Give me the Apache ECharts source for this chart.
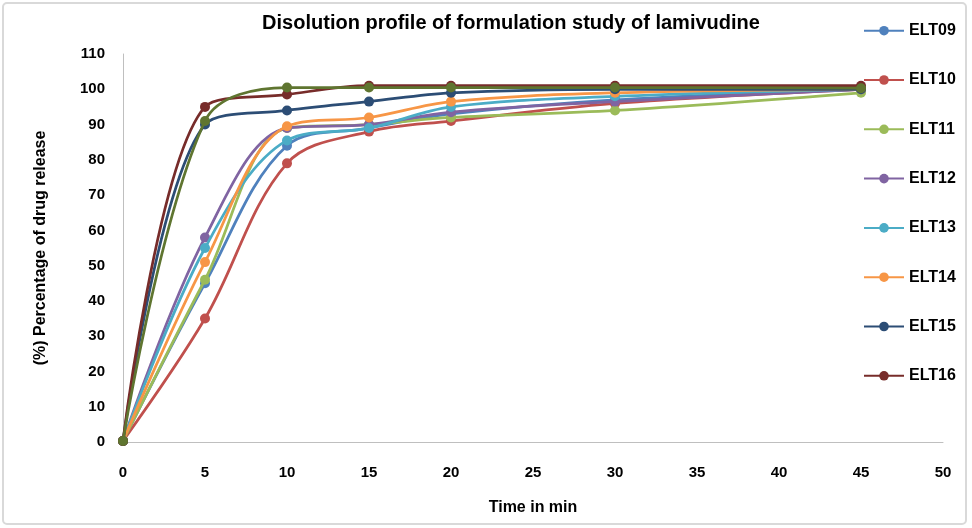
<!DOCTYPE html>
<html>
<head>
<meta charset="utf-8">
<script src="https://cdn.jsdelivr.net/npm/echarts@6/dist/echarts.min.js"></script>
<style>
html,body{margin:0;padding:0;background:#fff;}
#chart{width:972px;height:528px;}
</style>
</head>
<body>
<div id="chart"></div>
<script>
const times = [0, 5, 10, 15, 20, 30, 45];
const seriesNames = ['ELT09','ELT10','ELT11','ELT12','ELT13','ELT14','ELT15','ELT16','ELT17'];
const legendNames = ['ELT09','ELT10','ELT11','ELT12','ELT13','ELT14','ELT15','ELT16'];
const ELT09 = [0.3, 45, 84, 89, 93, 97, 100];
const ELT10 = [0.3, 35, 79, 88, 91, 96, 100];
const ELT11 = [0.3, 46, 89, 90, 92, 94, 99];
const ELT12 = [0.3, 58, 89, 90, 93.5, 96.5, 100];
const ELT13 = [0.3, 55, 85.5, 89, 95, 98, 100];
const ELT14 = [0.3, 51, 89.5, 92, 96.5, 99, 100];
const ELT15 = [0.3, 90, 94, 96.5, 99, 100, 100];
const ELT16 = [0.3, 95, 98.5, 101, 101, 101, 101];
const ELT17 = [0.3, 91, 100.5, 100.5, 100.5, 100.5, 100.3];
const allValues = [ELT09, ELT10, ELT11, ELT12, ELT13, ELT14, ELT15, ELT16, ELT17];
const colors = ['#4F81BD','#C0504D','#9BBB59','#8064A2','#4BACC6','#F79646','#2C4D75','#772C2A','#5F7530'];
const xTicks = { min: 0, max: 50, interval: 5 };
const yTicks = { min: 0, max: 110, interval: 10 };

const FONT = '"Liberation Sans", Arial, sans-serif';
const chart = echarts.init(document.getElementById('chart'), null, {renderer: 'canvas'});

const series = allValues.map((vals, i) => ({
  name: seriesNames[i],
  type: 'line',
  data: times.map((t, j) => [t, vals[j]]),
  smooth: 0.35,
  symbol: 'circle',
  symbolSize: 10,
  showSymbol: true,
  lineStyle: { width: 2.75, color: colors[i] },
  itemStyle: { color: colors[i] },
  emphasis: { disabled: true },
  z: 2 + i
}));

chart.setOption({
  animation: false,
  backgroundColor: '#fff',
  color: colors,
  graphic: [{
    type: 'rect',
    shape: { x: 3, y: 3, width: 963, height: 521, r: 4 },
    style: { fill: 'none', stroke: '#D9D9D9', lineWidth: 2 },
    z: -1
  }],
  title: {
    text: 'Disolution profile of formulation study of lamivudine',
    left: 511, top: 13, textAlign: 'center', padding: 0,
    textStyle: { fontFamily: FONT, fontWeight: 'bold', fontSize: 20, color: '#000' }
  },
  legend: {
    data: legendNames,
    orient: 'vertical',
    left: 863, top: 22.7, padding: 0,
    itemWidth: 40, itemHeight: 12, itemGap: 33.3,
    textStyle: { fontFamily: FONT, fontWeight: 'bold', fontSize: 16, color: '#000', lineHeight: 16 }
  },
  grid: { left: 123, right: 29, top: 54, bottom: 86, containLabel: false },
  xAxis: {
    type: 'value',
    min: xTicks.min, max: xTicks.max, interval: xTicks.interval,
    name: 'Time in min', nameLocation: 'middle', nameGap: 58,
    nameTextStyle: { fontFamily: FONT, fontWeight: 'bold', fontSize: 16, color: '#000' },
    axisLine: { show: true, lineStyle: { color: '#BFBFBF', width: 1 } },
    axisTick: { show: false },
    splitLine: { show: false },
    axisLabel: { fontFamily: FONT, fontWeight: 'bold', fontSize: 15, color: '#000', margin: 23 }
  },
  yAxis: {
    type: 'value',
    min: yTicks.min, max: yTicks.max, interval: yTicks.interval,
    name: '(%) Percentage of drug release', nameLocation: 'middle', nameGap: 74, nameRotate: 90,
    nameTextStyle: { fontFamily: FONT, fontWeight: 'bold', fontSize: 16, color: '#000' },
    axisLine: { show: true, lineStyle: { color: '#BFBFBF', width: 1 } },
    axisTick: { show: false },
    splitLine: { show: false },
    axisLabel: { fontFamily: FONT, fontWeight: 'bold', fontSize: 15, color: '#000', margin: 18 }
  },
  series: series
});
</script>
</body>
</html>
